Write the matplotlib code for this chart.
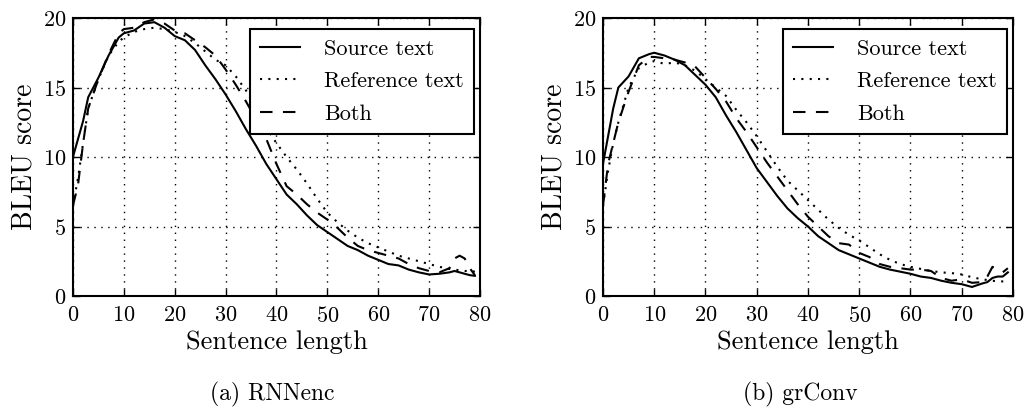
import matplotlib
matplotlib.use("Agg")
import matplotlib.pyplot as plt

# sentence lengths shared by every curve
lengths = [0, 1, 2, 3, 5, 7, 9,
           10, 12, 14, 16, 18, 20, 22, 24, 26, 28, 30, 32, 34, 36, 38, 40,
           42, 44, 46, 48, 50, 52, 54, 56, 58, 60, 62, 64, 66, 68, 70,
           72, 74, 75, 76, 77, 78, 79]

# (a) RNNenc
rnn_source = [10.0, 11.3, 12.6, 14.3, 15.7, 17.3, 18.6,
              18.9, 19.1, 19.6, 19.7, 19.3, 18.7, 18.4, 17.7, 16.6, 15.6, 14.5,
              13.3, 12.0, 10.8, 9.5, 8.4, 7.3, 6.6, 5.8, 5.1, 4.6, 4.1, 3.6,
              3.3, 2.9, 2.6, 2.3, 2.2, 1.9, 1.7, 1.55,
              1.6, 1.7, 1.8, 1.7, 1.6, 1.5, 1.45]
rnn_reference = [6.5, 8.5, 11.0, 13.5, 15.6, 17.3, 18.3,
                 18.6, 19.0, 19.2, 19.3, 19.2, 19.0, 18.7, 18.2, 17.6, 17.0,
                 16.6, 15.8, 14.8, 13.5, 12.1, 11.0, 10.0, 9.1, 8.1, 7.0, 6.0,
                 5.3, 4.7, 4.2, 3.8, 3.5, 3.2, 2.9, 2.7, 2.5, 2.3,
                 2.1, 1.95, 1.9, 1.85, 1.8, 1.8, 1.75]
rnn_both = [6.5, 8.0, 11.0, 13.5, 15.6, 17.4, 18.9,
            19.2, 19.3, 19.7, 19.9, 19.6, 19.1, 18.9, 18.4, 17.9, 17.3, 16.3,
            15.2, 14.0, 12.7, 11.3, 9.5, 7.9, 7.3, 6.6, 6.0, 5.5, 4.9, 4.2,
            3.6, 3.3, 3.1, 2.9, 2.7, 2.3, 2.0, 1.8,
            1.7, 2.0, 2.7, 2.9, 2.7, 2.0, 1.5]

# (b) grConv
grc_source = [9.5, 11.5, 13.5, 15.0, 15.8, 17.1, 17.4,
              17.5, 17.3, 17.0, 16.6, 15.9, 15.2, 14.3, 13.0, 11.8, 10.5, 9.2,
              8.2, 7.2, 6.3, 5.6, 5.0, 4.3, 3.8, 3.3, 3.0, 2.7, 2.4, 2.1,
              1.9, 1.75, 1.6, 1.4, 1.3, 1.1, 0.95, 0.85,
              0.65, 0.9, 1.0, 1.3, 1.4, 1.4, 1.7]
grc_reference = [6.5, 9.0, 11.0, 12.5, 15.0, 16.4, 16.8,
                 16.9, 16.7, 16.8, 16.6, 16.2, 15.6, 15.0, 14.4, 13.4, 12.5,
                 11.5, 10.4, 9.3, 8.3, 7.6, 6.9, 6.2, 5.5, 4.9, 4.4, 4.0, 3.5,
                 3.0, 2.6, 2.3, 2.1, 1.95, 1.8, 1.7, 1.65, 1.55,
                 1.35, 1.2, 1.15, 1.1, 1.05, 1.05, 1.05]
grc_both = [6.5, 9.5, 11.0, 12.5, 14.7, 16.6, 17.2,
            17.2, 17.1, 17.0, 16.8, 16.5, 15.7, 14.9, 14.0, 12.8, 11.8, 10.7,
            9.6, 8.6, 7.6, 6.6, 5.7, 5.0, 4.3, 3.8, 3.7, 3.1, 2.8, 2.3,
            2.1, 2.0, 1.9, 1.9, 1.8, 1.3, 1.1, 1.2,
            0.95, 1.0, 1.4, 2.1, 1.9, 1.7, 2.0]

series_labels = ["Source text", "Reference text", "Both"]
captions = ["(a) RNNenc", "(b) grConv"]
x_ticks = [0, 10, 20, 30, 40, 50, 60, 70, 80]
y_ticks = [0, 5, 10, 15, 20]

plt.rcParams["font.family"] = ["cmr10", "DejaVu Serif"]
plt.rcParams["mathtext.fontset"] = "cm"
plt.rcParams["axes.formatter.use_mathtext"] = True

fig = plt.figure(figsize=(10.26, 4.11), dpi=100)
positions = [[0.0711, 0.2798, 0.3967, 0.6764],
             [0.5877, 0.2798, 0.3996, 0.6764]]
caption_x = [0.265, 0.780]
panels = [(rnn_source, rnn_reference, rnn_both),
          (grc_source, grc_reference, grc_both)]
styles = ["-", (0, (1, 3)), (0, (6, 5))]

for pos, curves, caption, cx in zip(positions, panels, captions, caption_x):
    ax = fig.add_axes(pos)
    for values, ls, label in zip(curves, styles, series_labels):
        ax.plot(lengths, values, color="black", lw=1.5, linestyle=ls,
                label=label)
    ax.set_xlim(0, 80)
    ax.set_ylim(0, 20)
    ax.set_xticks(x_ticks)
    ax.set_yticks(y_ticks)
    ax.grid(True, color="black", linestyle=(0, (1, 4)), lw=1)
    ax.tick_params(direction="in", length=5, width=1, top=True, right=True,
                   labelsize=16)
    ax.tick_params(axis="x", pad=7)
    ax.tick_params(axis="y", pad=5)
    for sp in ax.spines.values():
        sp.set_linewidth(1.5)
    ax.set_xlabel("Sentence length", fontsize=19, labelpad=3)
    ax.set_ylabel("BLEU score", fontsize=20, labelpad=4)
    leg = ax.legend(loc="upper right", bbox_to_anchor=(0.985, 0.96),
                    fontsize=16, fancybox=False, framealpha=1,
                    edgecolor="black", handlelength=1.8, handletextpad=1.1,
                    labelspacing=0.58, borderpad=0.45, borderaxespad=0)
    leg.get_frame().set_linewidth(1.5)
    fig.text(cx, 0.04, caption, ha="center", va="center", fontsize=17)

fig.savefig("out.png", dpi=100)
